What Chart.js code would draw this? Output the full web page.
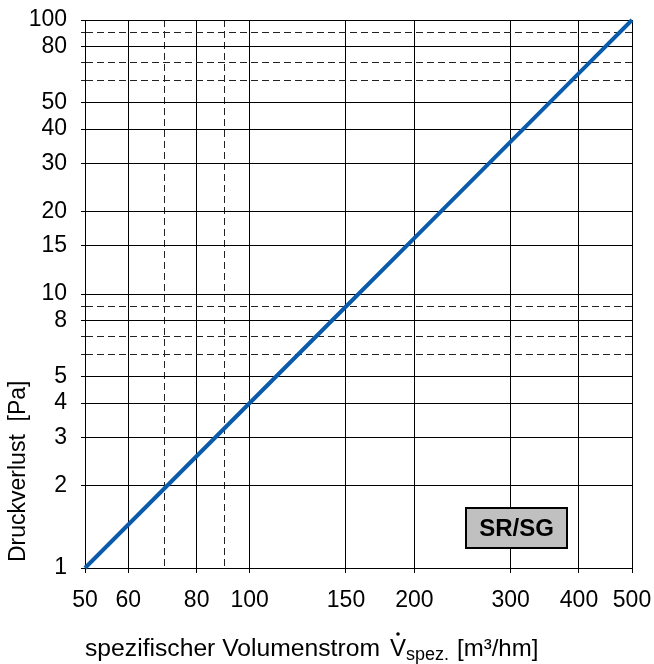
<!DOCTYPE html>
<html>
<head>
<meta charset="utf-8">
<script src="https://cdn.jsdelivr.net/npm/chart.js@4"></script>
<style>
  html, body { margin: 0; padding: 0; background: #fff; }
  #wrap { width: 654px; height: 664px; }
</style>
</head>
<body>
<div id="wrap"><canvas id="lossChart" width="654" height="664"></canvas></div>
<script>
// Volumenstrom (x) und Druckverlust (y)
const flow = [50, 100, 150, 200, 300, 400, 500];
const loss = [1, 4, 9, 16, 36, 64, 100];

const xTicks = [50, 60, 70, 80, 90, 100, 150, 200, 300, 400, 500];
const xLabels = [50, 60, 80, 100, 150, 200, 300, 400, 500];
const xDashed = [70, 90];

const yTicks = [1, 2, 3, 4, 5, 6, 7, 8, 9, 10, 15, 20, 30, 40, 50, 60, 70, 80, 90, 100];
const yLabels = [1, 2, 3, 4, 5, 8, 10, 15, 20, 30, 40, 50, 80, 100];
const yDashed = [6, 7, 9, 60, 70, 90];

const FONT = "'Liberation Sans', Arial, Helvetica, sans-serif";
const DASH = [7, 4];

const isDashed = (list) => (ctx) => !!(ctx.tick && list.includes(ctx.tick.value));

const titles = {
  id: "titles",
  afterDraw(chart) {
    const c = chart.ctx;
    const area = chart.chartArea;
    c.save();
    c.fillStyle = "#000";

    // y title
    c.save();
    c.translate(25, area.bottom - 6);
    c.rotate(-Math.PI / 2);
    c.font = "23px " + FONT;
    c.textAlign = "left";
    c.textBaseline = "alphabetic";
    c.fillText("Druckverlust  [Pa]", 0, 0);
    c.restore();

    // x title
    const base = 656;
    c.textAlign = "left";
    c.textBaseline = "alphabetic";
    c.font = "24.7px " + FONT;
    c.fillText("spezifischer Volumenstrom", area.left, base);
    c.font = "24px " + FONT;
    c.fillText("V", 390, base);
    c.beginPath();
    c.arc(398, 634, 1.8, 0, Math.PI * 2);
    c.fill();
    c.font = "18px " + FONT;
    c.fillText("spez.", 406, base + 4);
    c.font = "24px " + FONT;
    c.fillText("[m³/hm]", 457, base);

    // SR/SG label
    const bx = area.right - 166, by = area.bottom - 60, bw = 101, bh = 40;
    c.fillStyle = "#c0c0c0";
    c.fillRect(bx, by, bw, bh);
    c.lineWidth = 2;
    c.strokeStyle = "#000";
    c.strokeRect(bx, by, bw, bh);
    c.fillStyle = "#000";
    c.font = "bold 24px " + FONT;
    c.textAlign = "center";
    c.textBaseline = "middle";
    c.fillText("SR/SG", bx + bw / 2, by + bh / 2 + 1);
    c.restore();
  },
};

new Chart(document.getElementById("lossChart"), {
  type: "line",
  data: {
    labels: flow,
    datasets: [
      {
        data: flow.map((v, i) => ({ x: v, y: loss[i] })),
        borderColor: "#0b5bac",
        borderWidth: 4,
        pointRadius: 0,
        clip: false,
        tension: 0,
      },
    ],
  },
  options: {
    responsive: false,
    animation: false,
    layout: { padding: { top: 20, right: 22, left: 0, bottom: 0 } },
    plugins: { legend: { display: false }, tooltip: { enabled: false } },
    scales: {
      x: {
        type: "logarithmic",
        min: 50,
        max: 500,
        afterBuildTicks: (s) => { s.ticks = xTicks.map((v) => ({ value: v })); },
        afterFit: (s) => {
          s.height = 96;
          s.paddingLeft = 0;
          s.paddingRight = 0;
        },
        ticks: {
          autoSkip: false,
          maxRotation: 0,
          padding: 14,
          color: "#000",
          font: { family: FONT, size: 23 },
          callback: (v) => (xLabels.includes(v) ? String(v) : ""),
        },
        grid: {
          color: (ctx) => (isDashed(xDashed)(ctx) ? "#222" : "#000"),
          lineWidth: 1,
          tickLength: 5,
          tickColor: (ctx) => (isDashed(xDashed)(ctx) ? "rgba(0,0,0,0)" : "#000"),
        },
        border: {
          color: "#000",
          width: 1,
          dash: (ctx) => (isDashed(xDashed)(ctx) ? DASH : []),
        },
      },
      y: {
        type: "logarithmic",
        min: 1,
        max: 100,
        afterBuildTicks: (s) => { s.ticks = yTicks.map((v) => ({ value: v })); },
        afterFit: (s) => {
          s.width = 85;
          s.paddingTop = 0;
          s.paddingBottom = 0;
        },
        ticks: {
          autoSkip: false,
          padding: 14,
          color: "#000",
          font: { family: FONT, size: 23 },
          callback: (v) => (yLabels.includes(v) ? String(v) : ""),
        },
        grid: {
          color: (ctx) => (isDashed(yDashed)(ctx) ? "#222" : "#000"),
          lineWidth: 1,
          tickLength: 4,
          tickColor: (ctx) => (isDashed(yDashed)(ctx) ? "#222" : "#000"),
        },
        border: {
          color: "#000",
          width: 1,
          dash: (ctx) => (isDashed(yDashed)(ctx) ? DASH : []),
        },
      },
    },
  },
  plugins: [titles],
});
</script>
</body>
</html>
